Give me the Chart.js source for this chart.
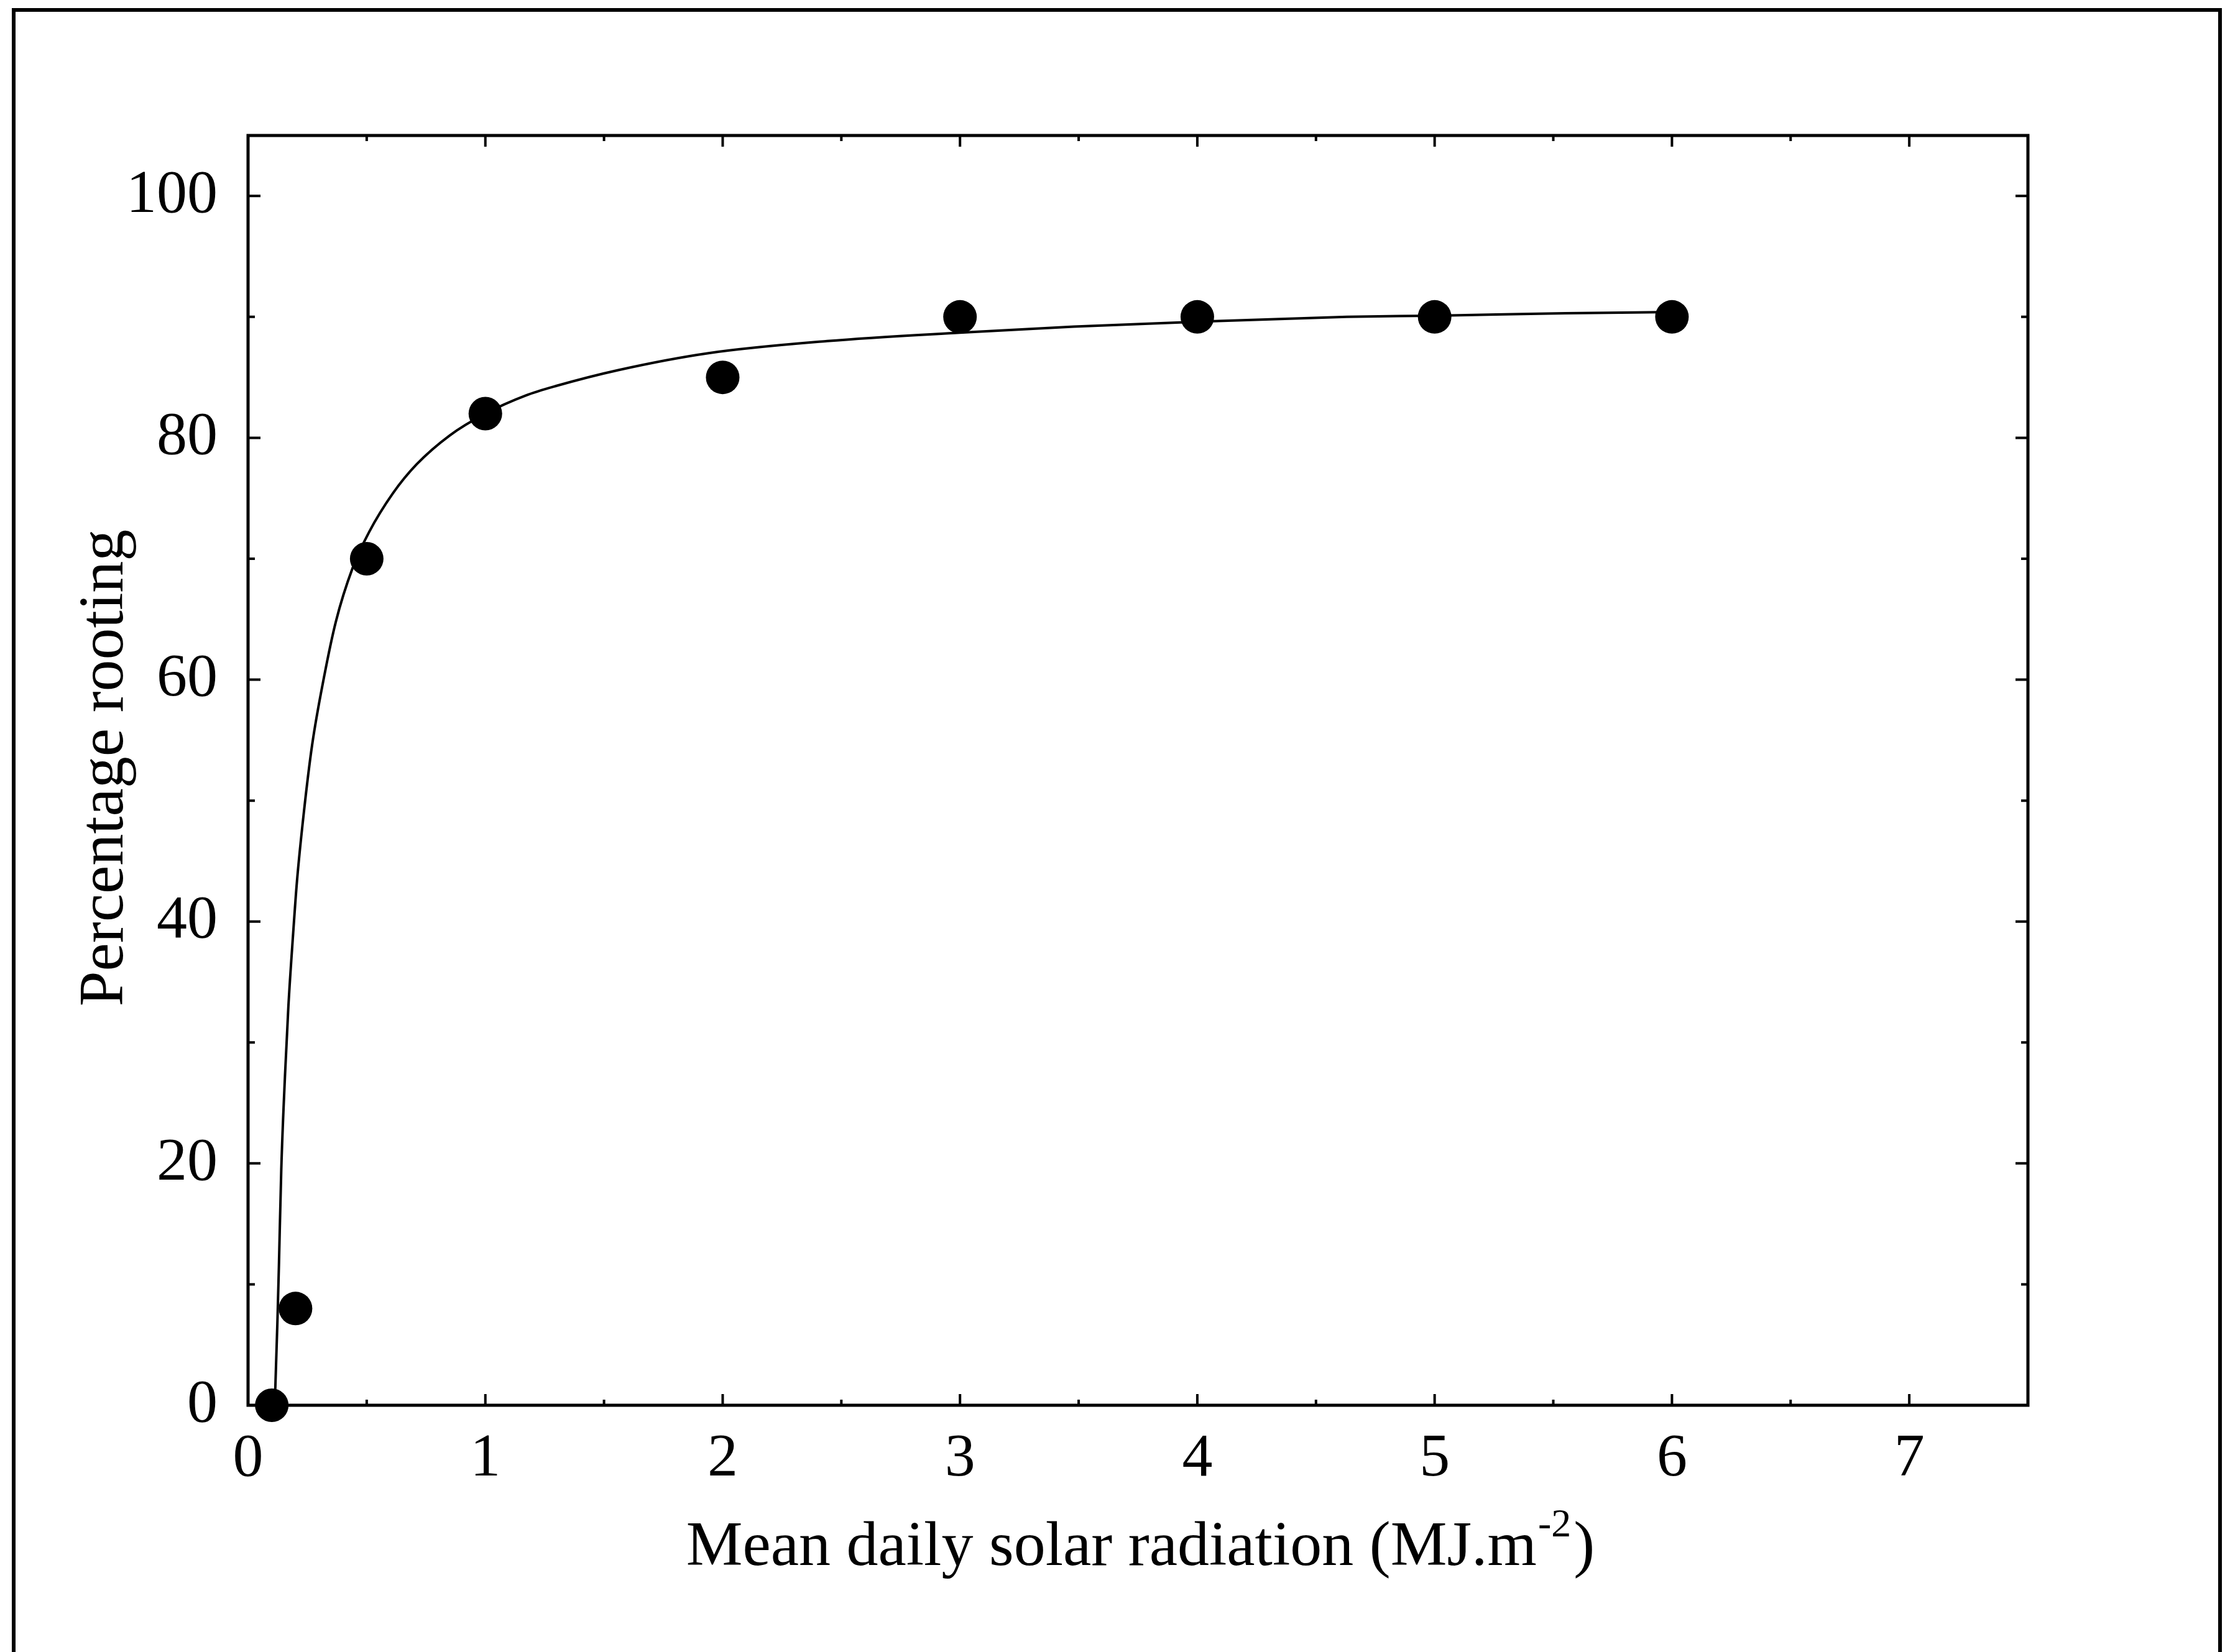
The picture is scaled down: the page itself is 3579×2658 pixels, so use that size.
<!DOCTYPE html>
<html>
<head>
<meta charset="utf-8">
<script src="https://cdn.jsdelivr.net/npm/chart.js@4.4.1/dist/chart.umd.min.js"></script>
<style>
  html, body { margin: 0; padding: 0; background: #ffffff; }
  canvas { display: block; }
</style>
</head>
<body>
<canvas id="c" width="3579" height="2658" style="width:3579px;height:2658px"></canvas>
<script>
// Observed data (mean daily solar radiation, percentage rooting)
const radiation = [0.1, 0.2, 0.5, 1, 2, 3, 4, 5, 6];
const rooting   = [0, 8, 70, 82, 85, 90, 90, 90, 90];

// Fitted curve
const curveX = [0.11, 0.115, 0.125, 0.13, 0.14, 0.156, 0.17, 0.19, 0.206, 0.235, 0.27, 0.32, 0.37, 0.44, 0.51, 0.61, 0.71, 0.85, 1.0, 1.17, 1.3, 1.56, 1.94, 2.44, 3.0, 3.48, 4.0, 4.63, 5.0, 5.55, 6.0];
const curveY = [0, 1.5, 7.8, 11.5, 19.5, 27.4, 33, 39, 43.3, 49, 54.6, 60.2, 64.8, 69.2, 72.2, 75.4, 77.8, 80.2, 82, 83.5, 84.3, 85.6, 87, 88, 88.7, 89.2, 89.6, 90, 90.1, 90.3, 90.4];

// Axis tick values
const xTickValues = [0, 1, 2, 3, 4, 5, 6, 7];
const xMinorTicks = [0.5, 1.5, 2.5, 3.5, 4.5, 5.5, 6.5, 7.5];
const yTickValues = [0, 20, 40, 60, 80, 100];
const yMinorTicks = [10, 30, 50, 70, 90];

const xTitleMain = 'Mean daily solar radiation (MJ.m';
const xTitleSup = '-2';
const xTitleEnd = ')';
const yTitle = 'Percentage rooting';

const FONT = '"Liberation Serif", "Times New Roman", serif';

const framePlugin = {
  id: 'framePlugin',
  beforeDraw(chart) {
    const ctx = chart.ctx;
    ctx.save();
    ctx.fillStyle = '#ffffff';
    ctx.fillRect(0, 0, chart.width, chart.height);
    ctx.restore();
  },
  beforeDatasetsDraw(chart) {
    const ctx = chart.ctx;
    const a = chart.chartArea;
    const xs = chart.scales.x, ys = chart.scales.y;
    ctx.save();
    ctx.strokeStyle = '#000';
    ctx.lineCap = 'butt';
    // plot box
    ctx.lineWidth = 5;
    ctx.strokeRect(a.left, a.top, a.right - a.left, a.bottom - a.top);
    // ticks (inward, on all four sides)
    ctx.lineWidth = 4;
    const xt = (vals, len) => {
      vals.forEach(v => {
        const px = xs.getPixelForValue(v);
        ctx.beginPath();
        ctx.moveTo(px, a.bottom); ctx.lineTo(px, a.bottom - len);
        ctx.moveTo(px, a.top); ctx.lineTo(px, a.top + len);
        ctx.stroke();
      });
    };
    const yt = (vals, len) => {
      vals.forEach(v => {
        const py = ys.getPixelForValue(v);
        ctx.beginPath();
        ctx.moveTo(a.left, py); ctx.lineTo(a.left + len, py);
        ctx.moveTo(a.right, py); ctx.lineTo(a.right - len, py);
        ctx.stroke();
      });
    };
    xt(xTickValues, 18); xt(xMinorTicks, 9);
    yt(yTickValues, 20); yt(yMinorTicks, 11);
    // outer frame (open at the bottom)
    ctx.lineWidth = 6;
    ctx.beginPath();
    ctx.moveTo(22, chart.height + 10);
    ctx.lineTo(22, 16);
    ctx.lineTo(3571, 16);
    ctx.lineTo(3571, chart.height + 10);
    ctx.stroke();
    ctx.restore();
  },
  afterDraw(chart) {
    const ctx = chart.ctx;
    const a = chart.chartArea;
    ctx.save();
    ctx.fillStyle = '#000';
    // x axis title with superscript
    const fMain = '102px ' + FONT, fSup = '64px ' + FONT;
    ctx.font = fMain;
    const w1 = ctx.measureText(xTitleMain).width;
    const w3 = ctx.measureText(xTitleEnd).width;
    ctx.font = fSup;
    const w2 = ctx.measureText(xTitleSup).width;
    const total = w1 + w2 + w3 + 6;
    const cx = (a.left + a.right) / 2 + 4;
    const base = a.bottom + 257;
    let x0 = cx - total / 2;
    ctx.textAlign = 'left';
    ctx.textBaseline = 'alphabetic';
    ctx.font = fMain;
    ctx.fillText(xTitleMain, x0, base);
    ctx.font = fSup;
    ctx.fillText(xTitleSup, x0 + w1 + 2, base - 46);
    ctx.font = fMain;
    ctx.fillText(xTitleEnd, x0 + w1 + w2 + 6, base);
    // y axis title
    ctx.translate(a.left - 202, (a.top + a.bottom) / 2 - 4);
    ctx.rotate(-Math.PI / 2);
    ctx.textAlign = 'center';
    ctx.font = '102px ' + FONT;
    ctx.fillText(yTitle, 0, 0);
    ctx.restore();
  }
};

const curveData = curveX.map((x, i) => ({ x: x, y: curveY[i] }));
const pointData = radiation.map((x, i) => ({ x: x, y: rooting[i] }));

new Chart(document.getElementById('c'), {
  type: 'scatter',
  data: {
    datasets: [
      {
        label: 'fit',
        data: curveData,
        showLine: true,
        borderColor: '#000',
        borderWidth: 4,
        pointRadius: 0,
        pointHoverRadius: 0,
        cubicInterpolationMode: 'monotone',
        fill: false,
        clip: false,
        order: 2
      },
      {
        label: 'observed',
        data: pointData,
        showLine: false,
        backgroundColor: '#000',
        borderColor: '#000',
        borderWidth: 0,
        pointRadius: 27,
        pointHoverRadius: 27,
        clip: false,
        order: 1
      }
    ]
  },
  options: {
    responsive: false,
    animation: false,
    devicePixelRatio: 1,
    layout: { padding: { top: 218, right: 317, left: 0, bottom: 0 } },
    plugins: {
      legend: { display: false },
      tooltip: { enabled: false },
      title: { display: false }
    },
    scales: {
      x: {
        type: 'linear',
        min: 0,
        max: 7.5,
        afterFit(scale) { scale.height = 397; },
        afterBuildTicks(scale) { scale.ticks = xTickValues.map(v => ({ value: v })); },
        ticks: {
          stepSize: 1,
          includeBounds: false,
          padding: 28,
          color: '#000',
          maxRotation: 0,
          autoSkip: false,
          font: { family: FONT, size: 98 },
          callback: (v) => String(v)
        },
        grid: { display: false, drawTicks: false },
        border: { display: false }
      },
      y: {
        type: 'linear',
        min: 0,
        max: 105,
        afterFit(scale) { scale.width = 399; },
        afterBuildTicks(scale) { scale.ticks = yTickValues.map(v => ({ value: v })); },
        ticks: {
          stepSize: 20,
          includeBounds: false,
          padding: 49,
          color: '#000',
          autoSkip: false,
          font: { family: FONT, size: 98 },
          callback: (v) => String(v)
        },
        grid: { display: false, drawTicks: false },
        border: { display: false }
      }
    }
  },
  plugins: [framePlugin]
});
</script>
</body>
</html>
